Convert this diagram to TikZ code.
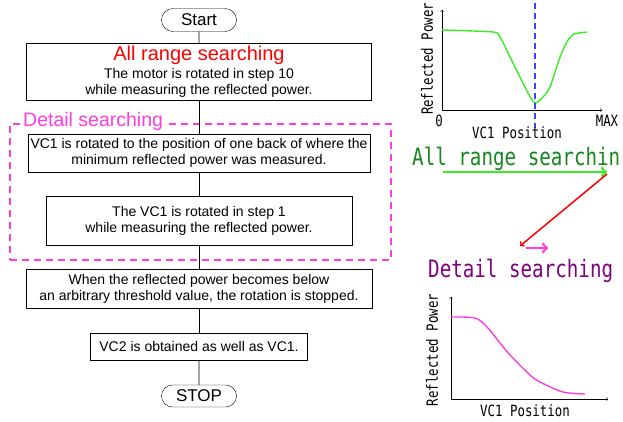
\documentclass[tikz,border=0pt]{standalone}
\usepackage{fontspec}
\setmainfont{Liberation Sans}
\newfontfamily\gothic[FakeStretch=0.8]{DejaVu Sans Mono}
\usetikzlibrary{shapes.misc}

\definecolor{detailpink}{RGB}{255,60,220}
\definecolor{curvegreen}{RGB}{60,235,40}
\definecolor{textgreen}{RGB}{20,135,30}
\definecolor{textpurple}{RGB}{128,0,128}
\definecolor{vcblue}{RGB}{50,70,255}

\begin{document}
\begin{tikzpicture}[x=1pt,y=-1pt,
    term/.style={draw,rounded rectangle,minimum width=75pt,minimum height=23pt,inner sep=0pt,font=\fontsize{17}{19}\selectfont},
    stepbox/.style={draw,rectangle,inner sep=0pt,align=center,font=\fontsize{14}{16}\selectfont},
    link/.style={draw,line width=0.8pt},
    gtext/.style={font=\gothic\fontsize{15.5}{17}\selectfont,inner sep=0pt},
    big/.style={font=\gothic\fontsize{24}{26}\selectfont,inner sep=0pt,anchor=base west}]
  \useasboundingbox (0,0) rectangle (623,421);

  % flowchart
  \node[draw=detailpink,dashed,line width=1.6pt,dash pattern=on 7pt off 5pt,
        minimum width=381pt,minimum height=136pt,inner sep=0pt] (detail) at (200.5,192) {};
  \node[term] (start) at (199,20) {Start};
  \node[stepbox,minimum width=345pt,minimum height=57pt] (allrange) at (199,71.5)
    {{\color{red}\fontsize{20}{20}\selectfont All range searching}\\[2pt]
     The motor is rotated in step 10\\while measuring the reflected power.};
  \node[stepbox,minimum width=342pt,minimum height=38pt] (goback) at (199,153)
    {VC1 is rotated to the position of one back of where the\\minimum reflected power was measured.};
  \node[stepbox,minimum width=306pt,minimum height=49pt] (fine) at (199,220.5)
    {The VC1 is rotated in step 1\\while measuring the reflected power.};
  \node[stepbox,minimum width=346pt,minimum height=39pt] (thresh) at (199,288.5)
    {When the reflected power becomes below\\an arbitrary threshold value, the rotation is stopped.};
  \node[stepbox,minimum width=217pt,minimum height=27pt] (vctwo) at (199,346.5)
    {VC2 is obtained as well as VC1.};
  \node[term,minimum height=22pt] (stop) at (199,396) {STOP};
  \node[fill=white,text=detailpink,inner sep=2pt,anchor=west,
        font=\fontsize{19.5}{20}\selectfont] (detaillabel) at (21,121) {Detail searching};

  \draw[link] (start) -- (allrange);
  \draw[link] (allrange) -- (goback);
  \draw[link] (goback) -- (fine);
  \draw[link] (fine) -- (thresh);
  \draw[link] (thresh) -- (vctwo);
  \draw[link] (vctwo) -- (stop);

  % all range graph
  \coordinate (o1) at (442,110);
  \draw[->,thin] (o1) -- ++(0,-100);
  \draw[->,thin] (o1) -- ++(160,0);
  \draw[curvegreen,line width=1.4pt] plot[smooth,tension=0.4] coordinates {(442,30) (493,32) (500,37) (510,57)
    (520,77) (528,93) (535,103) (543,97) (550,87) (560,57) (568,40) (574,34) (587,32)};
  \draw[vcblue,line width=1.2pt,dash pattern=on 6pt off 4pt] (535,3) -- (535,128);
  \node[gtext,rotate=90] (yone) at (427,59) {Reflected Power};
  \node[gtext] (zero) at (439,121) {0};
  \node[gtext] (max) at (607,121) {MAX};
  \node[gtext] (xone) at (517,133) {VC1 Position};

  % legend arrows
  \node[big,text=textgreen] (alltext) at (412,165) {All range searchin};
  \coordinate (ga) at (443,172);
  \coordinate (gb) at (607,172);
  \coordinate (rb) at (520,246);
  \coordinate (ma) at (526,248);
  \coordinate (mb) at (548,248);
  \draw[->,curvegreen,line width=2.6pt] (ga) -- (gb);
  \draw[->,red,line width=1.5pt] (gb) ++(0,2) -- (rb);
  \draw[->,detailpink,line width=2.6pt] (ma) -- (mb);
  \node[big,text=textpurple] (dettext) at (428,277) {Detail searching};

  % detail graph
  \coordinate (o2) at (451,399);
  \draw[->,thin] (o2) -- ++(0,-102);
  \draw[->,thin] (o2) -- ++(157,0);
  \draw[detailpink,line width=1.4pt] plot[smooth,tension=0.5] coordinates {(451,317) (475,318) (487,327) (500,343)
    (510,355) (530,375) (540,382) (563,392) (585,394)};
  \node[gtext,rotate=90] (ytwo) at (432,350) {Reflected Power};
  \node[gtext] (xtwo) at (525,411) {VC1 Position};
\end{tikzpicture}
\end{document}
